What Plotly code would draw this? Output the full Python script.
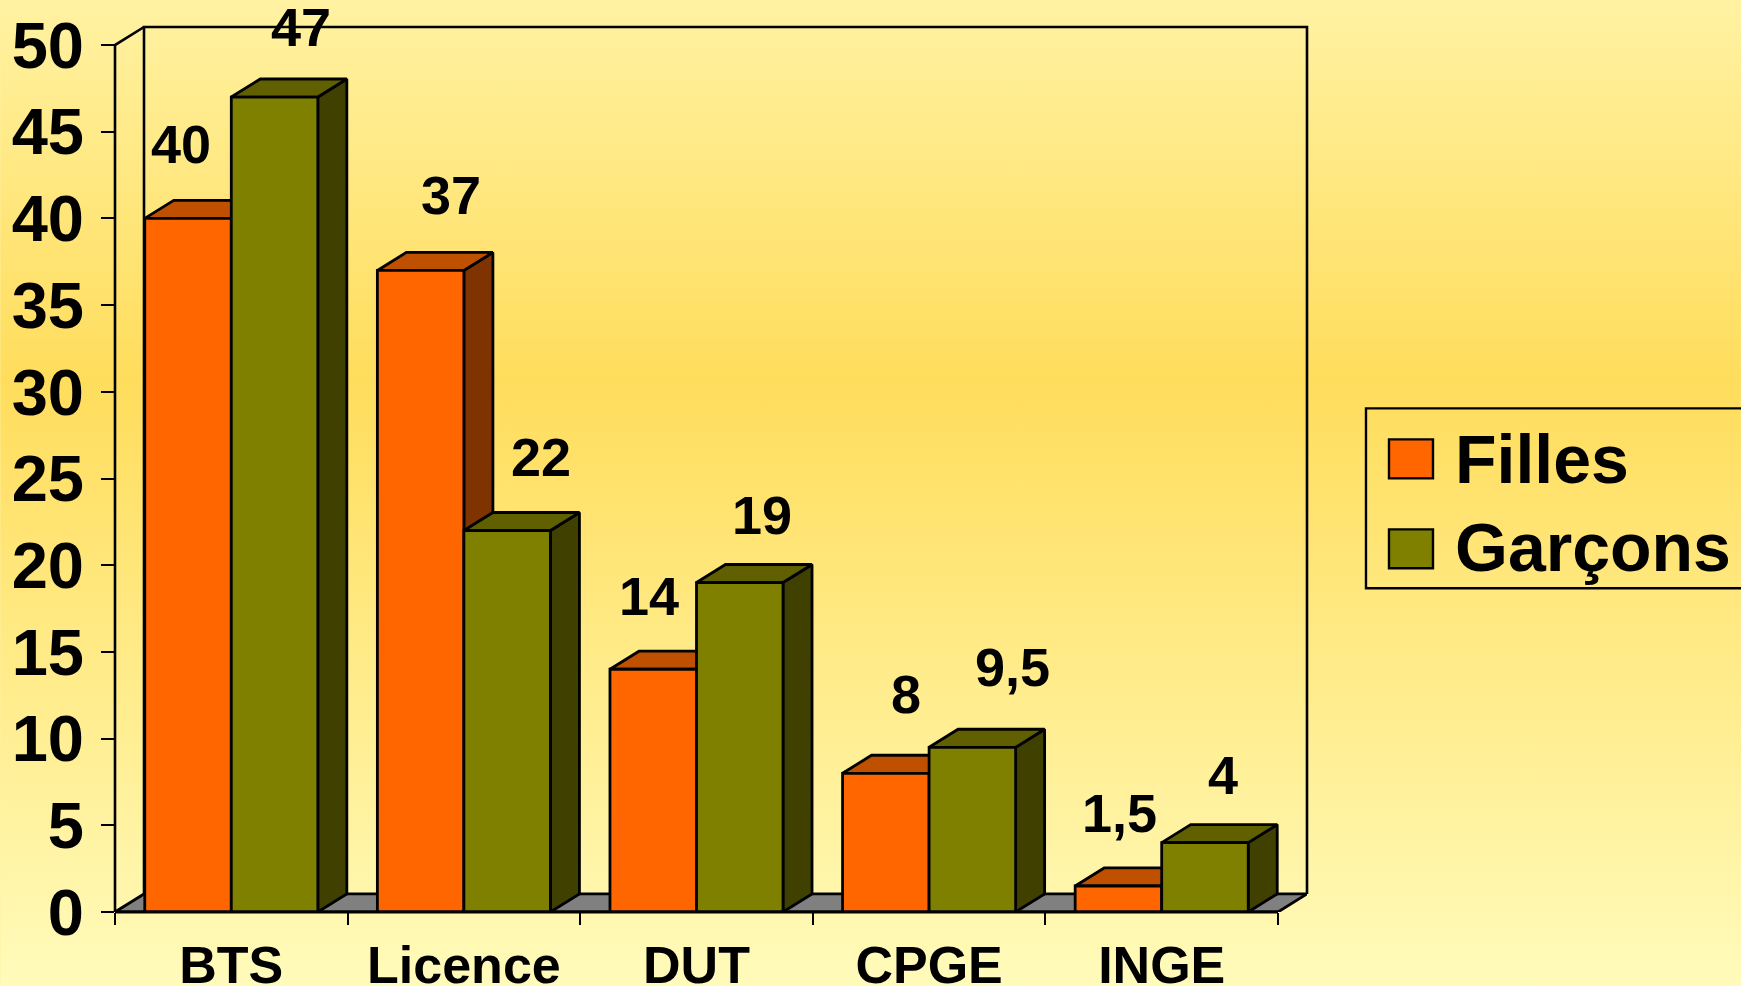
import base64
import plotly.graph_objects as go

# ---- data ----
categories = ["BTS", "Licence", "DUT", "CPGE", "INGE"]
filles = [40, 37, 14, 8, 1.5]
garcons = [47, 22, 19, 9.5, 4]
filles_labels = ["40", "37", "14", "8", "1,5"]
garcons_labels = ["47", "22", "19", "9,5", "4"]
y_ticks = [0, 5, 10, 15, 20, 25, 30, 35, 40, 45, 50]

# ---- label nudges (px) from the top-centre of each bar ----
filles_shift = [(-7, 74), (30, 75), (-4, 73), (20, 79), (1, 73)]
garcons_shift = [(26, 70), (34, 74), (22, 68), (40, 80), (18, 68)]

# ---- style / layout ----
W, H = 1741, 986
ML, MR, MT, MB = 114.8, 434, 26.5, 74.2
DEPTH_X = 0.1247     # category units
DEPTH_Y = 1.04       # value units
BAR_W = 0.372
FONT = "Liberation Sans"
ORANGE, ORANGE_TOP, ORANGE_SIDE = "#FF6600", "#BF5000", "#7F3300"
OLIVE, OLIVE_TOP, OLIVE_SIDE = "#808000", "#606000", "#404000"
LW = 2.8


def px(x):
    return (x - ML) / (W - ML - MR)


def py(y):
    return 1 - (y - MT) / (H - MT - MB)


def poly_trace(polys, color, z):
    xs, ys = [], []
    for p in polys:
        xs += [a for a, _ in p] + [p[0][0], None]
        ys += [b for _, b in p] + [p[0][1], None]
    return go.Scatter(x=xs, y=ys, mode="lines", fill="toself", fillcolor=color,
                      line=dict(color="black", width=LW), zorder=z,
                      cliponaxis=False, hoverinfo="skip", showlegend=False)


def box_faces(x0, x1, v):
    top = [(x0, v), (x0 + DEPTH_X, v + DEPTH_Y), (x1 + DEPTH_X, v + DEPTH_Y), (x1, v)]
    side = [(x1, 0), (x1 + DEPTH_X, DEPTH_Y), (x1 + DEPTH_X, v + DEPTH_Y), (x1, v)]
    return top, side


centers = [i + 0.5 for i in range(len(categories))]
n = len(categories)
x_max, y_max = n + DEPTH_X, 50 + DEPTH_Y
fig = go.Figure()


def frac_x(v):
    return v / x_max


def frac_y(v):
    return v / y_max


def line_shape(pts, width, layer):
    path = "M" + "L".join(f"{frac_x(a):.5f},{frac_y(b):.5f}" for a, b in pts)
    return dict(type="path", xref="paper", yref="paper", path=path,
                line=dict(color="black", width=width), layer=layer)


# floor
fig.add_trace(poly_trace([[(0, 0), (DEPTH_X, DEPTH_Y), (n + DEPTH_X, DEPTH_Y), (n, 0)]], "#808080", 0))

# 3D faces of the Filles bars, then front faces
f_faces = [box_faces(c - BAR_W, c, v) for c, v in zip(centers, filles)]
g_faces = [box_faces(c, c + BAR_W, v) for c, v in zip(centers, garcons)]
fig.add_trace(poly_trace([f[1] for f in f_faces], ORANGE_SIDE, 1))
fig.add_trace(poly_trace([f[0] for f in f_faces], ORANGE_TOP, 1))
fig.add_trace(go.Bar(x=centers, y=filles, name="Filles", width=BAR_W, offset=-BAR_W,
                     marker=dict(color=ORANGE, line=dict(color="black", width=LW)),
                     zorder=2, cliponaxis=False))
fig.add_trace(poly_trace([g[1] for g in g_faces], OLIVE_SIDE, 3))
fig.add_trace(poly_trace([g[0] for g in g_faces], OLIVE_TOP, 3))
fig.add_trace(go.Bar(x=centers, y=garcons, name="Garçons", width=BAR_W, offset=0,
                     marker=dict(color=OLIVE, line=dict(color="black", width=LW)),
                     zorder=4, cliponaxis=False))

# data labels
annotations = []
for c, v, t, (dx, dy) in zip(centers, filles, filles_labels, filles_shift):
    annotations.append(dict(x=c - BAR_W / 2, y=v, text=t, showarrow=False, xshift=dx, yshift=dy,
                            font=dict(family=FONT, size=54, color="black", weight="bold")))
for c, v, t, (dx, dy) in zip(centers, garcons, garcons_labels, garcons_shift):
    annotations.append(dict(x=c + BAR_W / 2, y=v, text=t, showarrow=False, xshift=dx, yshift=dy,
                            font=dict(family=FONT, size=54, color="black", weight="bold")))

# chart walls + baseline, then hand-built legend
shapes = [
    line_shape([(0, 0), (0, 50), (DEPTH_X, 50 + DEPTH_Y)], 2.6, "below"),
    line_shape([(DEPTH_X, DEPTH_Y), (DEPTH_X, 50 + DEPTH_Y), (n + DEPTH_X, 50 + DEPTH_Y),
                (n + DEPTH_X, DEPTH_Y)], 2.6, "below"),
    line_shape([(0, 0), (n, 0)], 3, "above"),
    dict(type="rect", xref="paper", yref="paper", x0=px(1366), x1=px(1760), y0=py(408), y1=py(588),
         line=dict(color="black", width=2.4), fillcolor="rgba(0,0,0,0)", layer="above"),
    dict(type="rect", xref="paper", yref="paper", x0=px(1389), x1=px(1433), y0=py(439), y1=py(478),
         line=dict(color="black", width=2.4), fillcolor=ORANGE, layer="above"),
    dict(type="rect", xref="paper", yref="paper", x0=px(1389), x1=px(1433), y0=py(529), y1=py(568),
         line=dict(color="black", width=2.4), fillcolor=OLIVE, layer="above"),
]
for name, yc in (("Filles", 459), ("Garçons", 547)):
    annotations.append(dict(xref="paper", yref="paper", x=px(1453), y=py(yc), text=name,
                            xanchor="left", yanchor="middle", showarrow=False,
                            font=dict(family=FONT, size=68, color="black", weight="bold")))

# page background: vertical gradient
svg = ('<svg xmlns="http://www.w3.org/2000/svg" width="1741" height="986" preserveAspectRatio="none">'
       '<defs><linearGradient id="g" x1="0" y1="0" x2="0" y2="1">'
       '<stop offset="0" stop-color="#FFF2A2"/><stop offset="0.385" stop-color="#FFDD5C"/>'
       '<stop offset="1" stop-color="#FFFBBB"/></linearGradient></defs>'
       '<rect width="1741" height="986" fill="url(#g)"/></svg>')
bg_src = "data:image/svg+xml;base64," + base64.b64encode(svg.encode()).decode()

fig.update_layout(
    width=W, height=H, autosize=False,
    margin=dict(l=ML, r=MR, t=MT, b=MB, pad=0),
    paper_bgcolor="#FFF2A2", plot_bgcolor="rgba(0,0,0,0)",
    showlegend=False, barmode="overlay",
    shapes=shapes, annotations=annotations,
    images=[dict(source=bg_src, xref="paper", yref="paper", x=px(0), y=py(0),
                 sizex=px(W) - px(0), sizey=py(0) - py(H), xanchor="left", yanchor="top",
                 sizing="stretch", layer="below")],
    xaxis=dict(range=[0, x_max], showgrid=False, zeroline=False, showline=False,
               automargin=False,
               tickmode="array", tickvals=centers, ticktext=categories, ticks="", ticklen=0,
               tickfont=dict(family=FONT, size=52, color="black", weight="bold"),
               ticklabelstandoff=18,
               minor=dict(tickmode="array", tickvals=list(range(n + 1)), ticks="outside",
                          ticklen=12, tickwidth=2.4, tickcolor="black", showgrid=False)),
    yaxis=dict(range=[0, y_max], showgrid=False, zeroline=False, showline=False,
               automargin=False,
               tickmode="array", tickvals=y_ticks, ticktext=[str(t) for t in y_ticks],
               ticks="outside", ticklen=13, tickwidth=2.4, tickcolor="black",
               tickfont=dict(family=FONT, size=65, color="black", weight="bold"),
               ticklabelstandoff=4),
)

fig.write_html("out.html", config=dict(displayModeBar=False),
               post_script="document.body.style.margin='0';document.body.style.overflow='hidden';")
